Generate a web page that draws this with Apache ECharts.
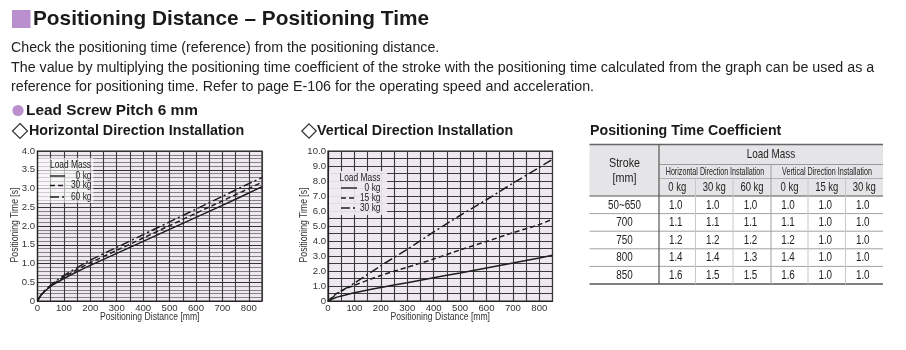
<!DOCTYPE html>
<html><head><meta charset="utf-8">
<script src="https://cdn.jsdelivr.net/npm/echarts@6/dist/echarts.min.js"></script>
<style>html,body{margin:0;padding:0;background:#fff}#c{width:906px;height:350px}</style>
</head><body><div id="c"></div>
<script>
// ---- data ----
const horizDist = [0, 10, 25, 50, 75, 100, 150, 200, 300, 400, 500, 600, 700, 800, 850];
const horiz0kg  = [0, 0.12, 0.24, 0.39, 0.50, 0.60, 0.78, 0.95, 1.27, 1.59, 1.91, 2.23, 2.55, 2.88, 3.05];
const horiz30kg = [0, 0.12, 0.25, 0.41, 0.53, 0.64, 0.84, 1.02, 1.35, 1.68, 2.01, 2.34, 2.67, 3.00, 3.17];
const horiz60kg = [0, 0.13, 0.26, 0.42, 0.56, 0.68, 0.89, 1.09, 1.43, 1.77, 2.11, 2.45, 2.79, 3.13, 3.29];
const vertDist  = [0, 25, 50, 100, 200, 300, 400, 500, 600, 700, 800, 850];
const vert0kg   = [0, 0.20, 0.33, 0.55, 0.90, 1.22, 1.55, 1.87, 2.20, 2.53, 2.87, 3.05];
const vert15kg  = [0, 0.40, 0.68, 1.05, 1.70, 2.25, 2.80, 3.40, 3.97, 4.55, 5.10, 5.45];
const vert30kg  = [0, 0.35, 0.65, 1.20, 2.35, 3.45, 4.60, 5.70, 6.75, 7.85, 8.90, 9.45];
const horizLegend = ['0 kg', '30 kg', '60 kg'];
const vertLegend  = ['0 kg', '15 kg', '30 kg'];
const strokes = ['50~650', '700', '750', '800', '850'];
const coefHoriz0  = ['1.0', '1.1', '1.2', '1.4', '1.6'];
const coefHoriz30 = ['1.0', '1.1', '1.2', '1.4', '1.5'];
const coefHoriz60 = ['1.0', '1.1', '1.2', '1.3', '1.5'];
const coefVert0   = ['1.0', '1.1', '1.2', '1.4', '1.6'];
const coefVert15  = ['1.0', '1.0', '1.0', '1.0', '1.0'];
const coefVert30  = ['1.0', '1.0', '1.0', '1.0', '1.0'];
const kgHeaders = ['0 kg', '30 kg', '60 kg', '0 kg', '15 kg', '30 kg'];
const xAxisTitle = 'Positioning Distance [mm]';
const yAxisTitle = 'Positioning Time [s]';

// ---- styles ----
const BG = '#efe8f1';
const INK = '#1e1e1e';
const SANS = "'Liberation Sans',Arial,sans-serif";
const DASHES = ['solid', [5, 3], [9, 3, 2, 3]];

const chart = echarts.init(document.getElementById('c'), null, {renderer: 'canvas'});

function yFmt(v) { return v === 0 ? '0' : v.toFixed(1); }

function makeSeries(name, xs, ys, gi, k) {
  return {
    type: 'line', name: name, xAxisIndex: gi, yAxisIndex: gi,
    data: xs.map((x, i) => [x, ys[i]]),
    showSymbol: false, symbol: 'none', smooth: 0.25, animation: false,
    lineStyle: {color: INK, width: 1.5, type: DASHES[k]}, z: 3
  };
}

const G = [];
function txt(x, y, text, font, opt) {
  opt = opt || {};
  G.push({type: 'text', x: x, y: y, scaleX: opt.sx || 1, rotation: opt.rot || 0, z: 20,
    style: {x: 0, y: 0, text: text, font: font, fill: opt.fill || '#222',
      textAlign: opt.align || 'left', textVerticalAlign: 'middle'}});
}
function line(x1, y1, x2, y2, color, w, dash) {
  G.push({type: 'line', z: 20, shape: {x1: x1, y1: y1, x2: x2, y2: y2},
    style: {stroke: color, lineWidth: w, lineDash: dash || null}});
}
function rect(x, y, w, h, fill) {
  G.push({type: 'rect', z: 19, shape: {x: x, y: y, width: w, height: h}, style: {fill: fill}});
}

// header texts
rect(12, 10, 18.5, 18, '#b98fcd');
txt(33, 19, 'Positioning Distance \u2013 Positioning Time', 'bold 20.8px ' + SANS, {fill: '#1a1a1a'});
txt(11, 48.5, 'Check the positioning time (reference) from the positioning distance.', '14.2px ' + SANS);
txt(11, 68, 'The value by multiplying the positioning time coefficient of the stroke with the positioning time calculated from the graph can be used as a', '14.25px ' + SANS);
txt(11, 87.5, 'reference for positioning time. Refer to page E-106 for the operating speed and acceleration.', '14.25px ' + SANS);
G.push({type: 'circle', z: 20, shape: {cx: 18, cy: 110.5, r: 5.6}, style: {fill: '#b98fcd'}});
txt(26, 111, 'Lead Screw Pitch 6 mm', 'bold 15.4px ' + SANS, {fill: '#1a1a1a'});
function diamond(cx, cy, h) {
  G.push({type: 'polygon', z: 20, shape: {points: [[cx, cy - h], [cx + h, cy], [cx, cy + h], [cx - h, cy]]},
    style: {fill: 'none', stroke: '#333', lineWidth: 1.2}});
}
diamond(20, 131, 7.5);
txt(29, 131.5, 'Horizontal Direction Installation', 'bold 14.3px ' + SANS, {fill: '#1a1a1a'});
diamond(309, 131, 7.2);
txt(317, 131.5, 'Vertical Direction Installation', 'bold 14.3px ' + SANS, {fill: '#1a1a1a'});
txt(590, 131, 'Positioning Time Coefficient', 'bold 14.2px ' + SANS, {fill: '#1a1a1a'});

// axis titles (condensed text)
const AXF = '10.5px ' + SANS;
txt(149.75, 317.5, xAxisTitle, AXF, {align: 'center', sx: 0.82, fill: '#333'});
txt(440.25, 317.5, xAxisTitle, AXF, {align: 'center', sx: 0.82, fill: '#333'});
txt(15, 225, yAxisTitle, AXF, {align: 'center', sx: 0.82, rot: Math.PI / 2, fill: '#333'});
txt(304.5, 225, yAxisTitle, AXF, {align: 'center', sx: 0.82, rot: Math.PI / 2, fill: '#333'});

// legends (custom boxes)
function legendBox(bx, by, bw, bh, fill, titleX, titleY, rows, sampleX1, sampleX2, textRight, labels) {
  rect(bx, by, bw, bh, fill);
  txt(titleX, titleY, 'Load Mass', AXF, {align: 'center', sx: 0.8});
  labels.forEach((lab, k) => {
    line(sampleX1, rows[k], sampleX2, rows[k], INK, 1.4, k === 0 ? null : DASHES[k]);
    txt(textRight, rows[k], lab, AXF, {align: 'right', sx: 0.8});
  });
}
legendBox(38.5, 158, 55, 45, 'rgba(255,255,255,0.6)', 70.5, 165.5, [176, 185.5, 197], 50, 65, 91.5, horizLegend);
legendBox(329, 171, 58, 44, 'rgba(239,232,241,0.92)', 360, 178.5, [188, 198, 208], 341, 357, 380.5, vertLegend);

// table
const colX = [589.5, 659, 695.5, 733, 771, 808, 845.5, 883];
const rowTop = 196, rowH = 17.6;
rect(589.5, 144.5, 293.5, 51.5, '#e5e5e8');
line(589.5, 144.5, 883, 144.5, '#666', 1.5);
line(659, 164.5, 883, 164.5, '#9a9a9a', 1);
line(659, 178.5, 883, 178.5, '#b0b0b0', 1);
line(589.5, 196, 883, 196, '#555', 1.2);
for (let r = 1; r < strokes.length; r++) line(589.5, rowTop + r * rowH, 883, rowTop + r * rowH, '#8a8a8a', 0.8);
line(589.5, rowTop + strokes.length * rowH, 883, rowTop + strokes.length * rowH, '#555', 1.5);
line(659, 144.5, 659, rowTop + strokes.length * rowH, '#555', 1.2);
line(771, 164.5, 771, rowTop + strokes.length * rowH, '#a0a0a0', 1);
[2, 3, 5, 6].forEach(c => line(colX[c], 178.5, colX[c], rowTop + strokes.length * rowH, '#c8c8c8', 1));
txt(624.5, 163.5, 'Stroke', '12.5px ' + SANS, {align: 'center', sx: 0.86});
txt(624.5, 178.5, '[mm]', '12.5px ' + SANS, {align: 'center', sx: 0.86});
txt(771, 154.5, 'Load Mass', '13px ' + SANS, {align: 'center', sx: 0.76});
txt(715, 171.5, 'Horizontal Direction Installation', '11px ' + SANS, {align: 'center', sx: 0.65});
txt(827, 171.5, 'Vertical Direction Installation', '11px ' + SANS, {align: 'center', sx: 0.65});
kgHeaders.forEach((h, c) => txt((colX[c + 1] + colX[c + 2]) / 2, 187.5, h, '12.5px ' + SANS, {align: 'center', sx: 0.76}));
const coefCols = [coefHoriz0, coefHoriz30, coefHoriz60, coefVert0, coefVert15, coefVert30];
strokes.forEach((s, r) => {
  const cy = rowTop + r * rowH + rowH / 2 + 0.5;
  txt(624.5, cy, s, '12px ' + SANS, {align: 'center', sx: 0.82});
  coefCols.forEach((col, c) => txt((colX[c + 1] + colX[c + 2]) / 2 - 1.5, cy, col[r], '12px ' + SANS, {align: 'center', sx: 0.82}));
});

const axisLabelStyle = {color: '#333', fontSize: 9.6, fontFamily: SANS};

const option = {
  animation: false,
  backgroundColor: '#fff',
  grid: [
    {left: 37.5, top: 151, width: 224.5, height: 150, show: true, backgroundColor: BG, borderColor: '#222', borderWidth: 1.2, containLabel: false, outerBoundsMode: 'none'},
    {left: 328, top: 151, width: 224.5, height: 150, show: true, backgroundColor: BG, borderColor: '#222', borderWidth: 1.2, containLabel: false, outerBoundsMode: 'none'}
  ],
  xAxis: [0, 1].map(i => ({
    type: 'value', gridIndex: i, min: 0, max: 850, interval: 50,
    axisLine: {show: true, lineStyle: {color: '#222', width: 1.2}},
    axisTick: {show: false},
    axisLabel: Object.assign({margin: 2, formatter: v => (v % 100 === 0 && v <= 800) ? String(v) : ''}, axisLabelStyle),
    splitLine: {show: true, lineStyle: {color: '#3a3a3a', width: 1.1}}
  })),
  yAxis: [
    {type: 'value', gridIndex: 0, min: 0, max: 4, interval: 0.5,
     axisLine: {show: true, lineStyle: {color: '#222', width: 1.2}},
     axisTick: {show: false},
     axisLabel: Object.assign({margin: 2.5, formatter: yFmt}, axisLabelStyle),
     splitLine: {show: true, lineStyle: {color: '#333', width: 1.2}},
     minorTick: {show: false, splitNumber: 5},
     minorSplitLine: {show: true, lineStyle: {color: '#686868', width: 0.8}}},
    {type: 'value', gridIndex: 1, min: 0, max: 10, interval: 1,
     axisLine: {show: true, lineStyle: {color: '#222', width: 1.2}},
     axisTick: {show: false},
     axisLabel: Object.assign({margin: 2, formatter: yFmt}, axisLabelStyle),
     splitLine: {show: true, lineStyle: {color: '#3a3a3a', width: 1.1}},
     minorTick: {show: false, splitNumber: 2},
     minorSplitLine: {show: true, lineStyle: {color: '#3a3a3a', width: 1.1}}}
  ],
  series: [
    makeSeries('H ' + horizLegend[0], horizDist, horiz0kg, 0, 0),
    makeSeries('H ' + horizLegend[1], horizDist, horiz30kg, 0, 1),
    makeSeries('H ' + horizLegend[2], horizDist, horiz60kg, 0, 2),
    makeSeries('V ' + vertLegend[0], vertDist, vert0kg, 1, 0),
    makeSeries('V ' + vertLegend[1], vertDist, vert15kg, 1, 1),
    makeSeries('V ' + vertLegend[2], vertDist, vert30kg, 1, 2)
  ],
  graphic: G
};
chart.setOption(option);
</script>
</body></html>
